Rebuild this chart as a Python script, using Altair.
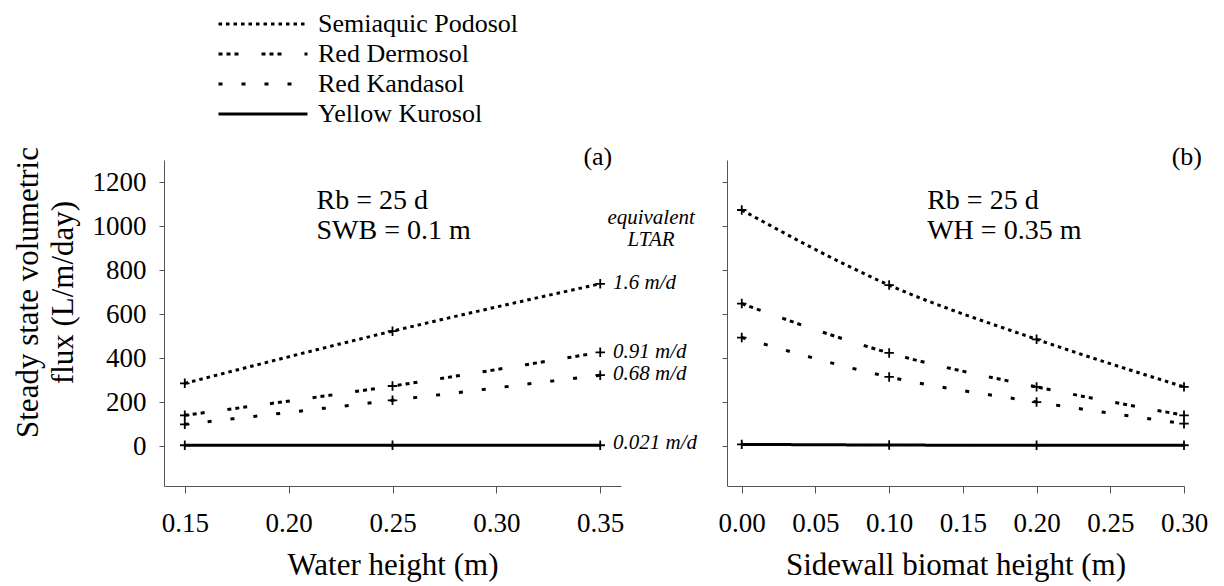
import altair as alt
import pandas as pd

FONT = "Liberation Serif"

soils = ["Semiaquic Podosol", "Red Dermosol", "Red Kandasol", "Yellow Kurosol"]
dashes = [[3.5, 4], [4, 4, 4, 4, 4, 23], [4, 19], [1, 0]]

# panel (a): flux vs water height
water_height = [0.15, 0.25, 0.35]
a_podosol = [286, 523, 738]
a_dermosol = [141, 274, 427]
a_kandasol = [100, 209, 323]
a_kurosol = [5, 5, 5]

# panel (b): flux vs sidewall biomat height
biomat_height = [0.0, 0.1, 0.2, 0.3]
b_podosol = [1073, 732, 486, 270]
b_dermosol = [648, 424, 270, 141]
b_kandasol = [494, 315, 201, 103]
b_kurosol = [9, 6, 5, 5]

ltar_labels = ["1.6 m/d", "0.91 m/d", "0.68 m/d", "0.021 m/d"]
ltar_y = [742, 428, 330, 14]

y_ticks = [0, 200, 400, 600, 800, 1000, 1200]
xa_ticks = [0.15, 0.20, 0.25, 0.30, 0.35]
xb_ticks = [0.00, 0.05, 0.10, 0.15, 0.20, 0.25, 0.30]


def long(xs, series):
    rows = []
    for name, vals in zip(soils, series):
        for x, v in zip(xs, vals):
            rows.append({"x": x, "flux": v, "soil": name})
    return pd.DataFrame(rows)


df_a = long(water_height, [a_podosol, a_dermosol, a_kandasol, a_kurosol])
df_b = long(biomat_height, [b_podosol, b_dermosol, b_kandasol, b_kurosol])

W, H = 457, 326
ydom = [-180, 1300]
PLUS = "M-1,0L1,0M0,-1L0,1"

legend = alt.Legend(
    orient="none", legendX=53, legendY=-149, title=None,
    symbolType="stroke", symbolSize=7921, symbolStrokeWidth=3,
    symbolStrokeColor="black", labelFont=FONT, labelFontSize=26,
    labelColor="black", labelOffset=9, clipHeight=26, rowPadding=4,
    padding=0, labelLimit=400,
)
dash = alt.StrokeDash("soil:N", scale=alt.Scale(domain=soils, range=dashes), legend=legend)


def panel(df, xdom, xticks, xtitle, ylabels):
    xenc = alt.X("x:Q", scale=alt.Scale(domain=xdom, nice=False, zero=False),
                 axis=alt.Axis(values=xticks, format=".2f", tickSize=7, labelPadding=17,
                               labelFlush=False, title=xtitle, titlePadding=14))
    if ylabels:
        yaxis = alt.Axis(values=y_ticks, format="d", tickSize=5, labelPadding=13,
                         labelFlush=False,
                         title=["Steady state volumetric", "flux (L/m/day)"],
                         titleAngle=-90, titleBaseline="middle", titleAlign="center",
                         titleX=-136, titleY=132, titleLineHeight=35)
    else:
        yaxis = alt.Axis(values=y_ticks, tickSize=5, labels=False, title=None)
    yenc = alt.Y("flux:Q", scale=alt.Scale(domain=ydom, nice=False, zero=False), axis=yaxis)
    base = alt.Chart(df)
    lines = base.mark_line(color="black", strokeWidth=3, interpolate="monotone", strokeCap="butt").encode(
        x=xenc, y=yenc, strokeDash=dash, detail="soil:N")
    pts = base.mark_point(shape=PLUS, size=90, filled=False, color="black",
                          strokeWidth=1.8, opacity=1).encode(x="x:Q", y="flux:Q")
    return lines + pts


def texts(xs, ys, labels, **kw):
    d = pd.DataFrame({"x": xs, "flux": ys, "t": labels})
    return alt.Chart(d).mark_text(font=FONT, color="black", **kw).encode(
        x="x:Q", y="flux:Q", text="t:N")


pa = panel(df_a, [0.14, 0.36], xa_ticks, "Water height (m)", True)
pa = pa + texts([0.3558], [1315], ["(a)"], fontSize=26, align="right", baseline="middle")
pa = pa + texts([0.2134, 0.2134], [1115, 978], ["Rb = 25 d", "SWB = 0.1 m"],
                fontSize=28, align="left", baseline="middle")
pa = pa + texts([0.3745, 0.3745], [1037, 937], ["equivalent", "LTAR"],
                fontSize=21, fontStyle="italic", align="center", baseline="middle")
pa = pa + texts([0.3562] * 4, ltar_y, ltar_labels,
                fontSize=21, fontStyle="italic", align="left", baseline="middle")
pa = pa.properties(width=W, height=H)

pb = panel(df_b, [-0.01, 0.30], xb_ticks, "Sidewall biomat height (m)", False)
pb = pb + texts([0.3122], [1315], ["(b)"], fontSize=26, align="right", baseline="middle")
pb = pb + texts([0.1258, 0.1258], [1115, 978], ["Rb = 25 d", "WH = 0.35 m"],
                fontSize=28, align="left", baseline="middle")
pb = pb.properties(width=W, height=H)

chart = alt.hconcat(pa, pb, spacing=106, bounds="flush").properties(
    autosize=alt.AutoSizeParams(type="none"),
    padding={"left": 164, "top": 160, "right": 1060, "bottom": 426},
    background="white",
).configure_view(strokeWidth=0).configure_axis(
    grid=False, domainColor="#555", tickColor="#555", domainWidth=1, tickWidth=1,
    labelFont=FONT, labelFontSize=27, labelColor="black",
    titleFont=FONT, titleFontSize=31, titleFontWeight="normal", titleColor="black",
)

chart.save("out.html", embed_options={"renderer": "svg", "actions": False})
